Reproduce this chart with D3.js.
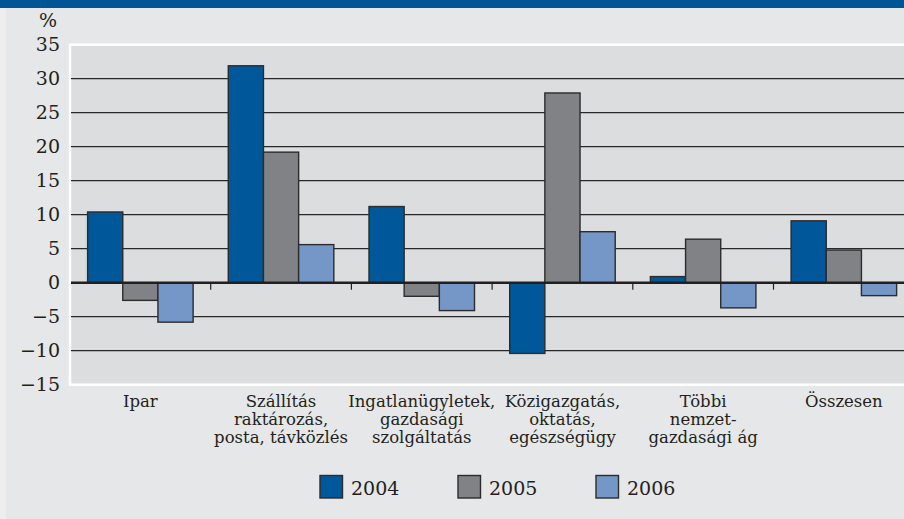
<!DOCTYPE html>
<html><head><meta charset="utf-8">
<script src="https://cdn.jsdelivr.net/npm/d3@7"></script>
<style>body{margin:0;background:#e6e7e8;}svg{display:block;}</style>
</head><body>
<svg id="c" width="904" height="519"></svg>
<script>
const categories = [
  ["Ipar"],
  ["Szállítás", "raktározás,", "posta, távközlés"],
  ["Ingatlanügyletek,", "gazdasági", "szolgáltatás"],
  ["Közigazgatás,", "oktatás,", "egészségügy"],
  ["Többi", "nemzet-", "gazdasági ág"],
  ["Összesen"]
];
const seriesNames = ["2004", "2005", "2006"];
const v2004 = [10.4, 31.9, 11.2, -10.4, 0.9, 9.1];
const v2005 = [-2.6, 19.2, -2.0, 27.9, 6.4, 4.8];
const v2006 = [-5.8, 5.6, -4.1, 7.5, -3.7, -1.9];
const yTicks = [-15, -10, -5, 0, 5, 10, 15, 20, 25, 30, 35];
const colors = ["#00589b", "#808285", "#7597c7"];

(function(){
const series = [v2004, v2005, v2006];
const svg = d3.select("#c");
const W = 904, H = 519;
const font = "'DejaVu Serif', serif";

svg.append("rect").attr("x",0).attr("y",0).attr("width",W).attr("height",H).attr("fill","#e6e7e8");
svg.append("rect").attr("x",0).attr("y",0).attr("width",6).attr("height",H).attr("fill","#eeeeef");
svg.append("rect").attr("x",0).attr("y",0).attr("width",W).attr("height",8).attr("fill","#005596");

const pLeft = 70, pTop = 44.7, pBottom = 384.7;
const idx = d3.range(categories.length);
const x0 = d3.scaleBand().domain(idx).range([pLeft, pLeft + 140.7*6]).paddingInner(0).paddingOuter(0);
const x1 = d3.scaleBand().domain(d3.range(3)).range([0, x0.bandwidth()]).paddingOuter(0.5).paddingInner(0);
const y = d3.scaleLinear().domain([-15, 35]).range([pBottom, pTop]);

svg.append("rect").attr("x", pLeft).attr("y", pTop).attr("width", W + 20 - pLeft).attr("height", pBottom - pTop)
  .attr("fill", "#dcdddf").attr("stroke", "#ffffff").attr("stroke-width", 2.5);

svg.append("g").selectAll("line").data(yTicks.filter(t => t > -15 && t < 35 && t !== 0)).join("line")
  .attr("x1", pLeft + 1).attr("x2", W).attr("y1", d => y(d)).attr("y2", d => y(d))
  .attr("stroke", "#2a2728").attr("stroke-width", 1.2);

svg.append("g").selectAll("text").data(yTicks).join("text")
  .attr("x", 60).attr("y", d => y(d) + 6.5).attr("text-anchor", "end")
  .attr("font-family", font).attr("font-size", 19).attr("fill", "#231f20")
  .text(d => d < 0 ? "\u2212" + Math.abs(d) : d);
svg.append("text").attr("x", 48).attr("y", 27).attr("text-anchor", "middle")
  .attr("font-family", font).attr("font-size", 19).attr("fill", "#231f20").text("%");

const g = svg.append("g");
idx.forEach(i => {
  series.forEach((s, k) => {
    const v = s[i];
    g.append("rect")
      .attr("x", x0(i) + x1(k)).attr("width", x1.bandwidth())
      .attr("y", y(Math.max(0, v))).attr("height", Math.abs(y(v) - y(0)))
      .attr("fill", colors[k]).attr("stroke", "#2d2b2c").attr("stroke-width", 1.4);
  });
});

svg.append("line").attr("x1", pLeft + 1).attr("x2", W).attr("y1", y(0)).attr("y2", y(0))
  .attr("stroke", "#231f20").attr("stroke-width", 2.6);
svg.append("g").selectAll("line").data(idx.slice(1)).join("line")
  .attr("x1", d => x0(d)).attr("x2", d => x0(d)).attr("y1", y(0)).attr("y2", y(0) + 7)
  .attr("stroke", "#231f20").attr("stroke-width", 1.2);

idx.forEach(i => {
  const t = svg.append("text").attr("text-anchor", "middle")
    .attr("font-family", font).attr("font-size", 16.5).attr("fill", "#231f20");
  categories[i].forEach((line, j) => {
    t.append("tspan").attr("x", x0(i) + x0.bandwidth()/2).attr("y", 406.5 + j*18).text(line);
  });
});

const lx = [320, 458, 596];
seriesNames.forEach((n, k) => {
  svg.append("rect").attr("x", lx[k]).attr("y", 475.5).attr("width", 22.5).attr("height", 22.5)
    .attr("fill", colors[k]).attr("stroke", "#2d2b2c").attr("stroke-width", 1.4);
  svg.append("text").attr("x", lx[k] + 31).attr("y", 495).attr("font-family", font).attr("font-size", 19)
    .attr("fill", "#231f20").text(n);
});
})();
</script>
</body></html>
